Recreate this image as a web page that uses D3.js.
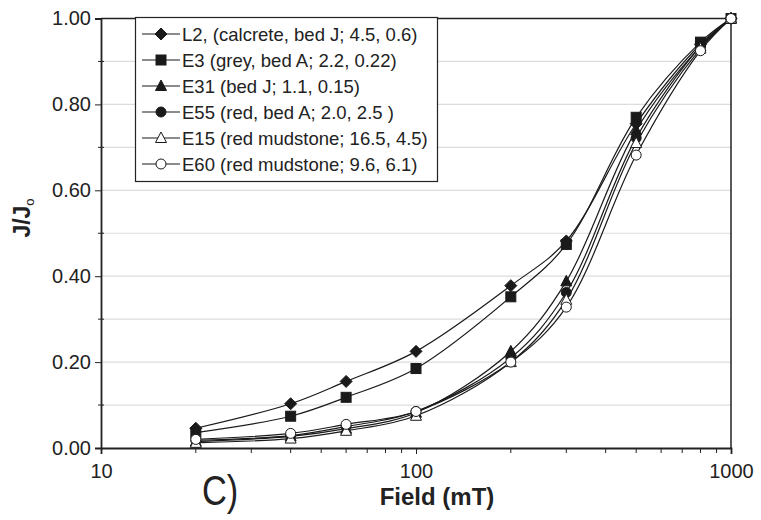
<!DOCTYPE html>
<html><head><meta charset="utf-8">
<script src="https://cdn.jsdelivr.net/npm/d3@7"></script>
<style>body{margin:0;background:#fff}svg{display:block}text{font-family:"Liberation Sans",Arial,sans-serif;fill:#222}</style>
</head><body>
<script>
const fields = [20, 40, 60, 100, 200, 300, 500, 800, 1000];
const seriesNames = ["L2, (calcrete, bed J; 4.5, 0.6)", "E3 (grey, bed A; 2.2, 0.22)", "E31 (bed J; 1.1, 0.15)", "E55 (red, bed A; 2.0, 2.5 )", "E15 (red mudstone; 16.5, 4.5)", "E60 (red mudstone; 9.6, 6.1)"];
const L2  = [0.046, 0.103, 0.155, 0.225, 0.378, 0.482, 0.755, 0.940, 1.0];
const E3  = [0.036, 0.074, 0.118, 0.185, 0.352, 0.474, 0.770, 0.945, 1.0];
const E31 = [0.015, 0.027, 0.045, 0.082, 0.225, 0.388, 0.740, 0.935, 1.0];
const E55 = [0.018, 0.029, 0.050, 0.085, 0.210, 0.362, 0.722, 0.935, 1.0];
const E15 = [0.012, 0.022, 0.040, 0.075, 0.200, 0.345, 0.710, 0.930, 1.0];
const E60 = [0.020, 0.034, 0.055, 0.085, 0.200, 0.328, 0.682, 0.925, 1.0];
const markers = ["diamond", "square", "triangle", "circle", "triangleOpen", "circleOpen"];
const xTickLabels = [10, 100, 1000];
const yTickLabels = [0, 0.2, 0.4, 0.6, 0.8, 1.0];

const seriesValues = [L2, E3, E31, E55, E15, E60];
const W = 761, H = 520;
const m = {l: 101, r: 731, t: 18.5, b: 448};
const svg = d3.select("body").append("svg").attr("width", W).attr("height", H);
const x = d3.scaleLog().domain([10, 1000]).range([m.l, m.r]);
const y = d3.scaleLinear().domain([0, 1]).range([m.b, m.t]);

// gridlines
svg.append("g").selectAll("line").data(d3.range(1, 10).map(i => i / 10)).join("line")
  .attr("x1", m.l).attr("x2", m.r).attr("y1", d => y(d)).attr("y2", d => y(d))
  .attr("stroke", "#dcdcdc").attr("stroke-width", 1.2);

// frame top/right
svg.append("line").attr("x1", m.l).attr("x2", m.r).attr("y1", m.t).attr("y2", m.t).attr("stroke", "#222").attr("stroke-width", 1.5);
svg.append("line").attr("x1", m.r).attr("x2", m.r).attr("y1", m.t).attr("y2", m.b).attr("stroke", "#222").attr("stroke-width", 1.5);

// x axis
const xMinor = [];
[10, 100].forEach(dec => { for (let k = 2; k <= 9; k++) xMinor.push(dec * k); });
const xAxis = svg.append("g").attr("transform", `translate(0,${m.b})`)
  .call(d3.axisBottom(x).tickValues(xTickLabels).tickFormat(d3.format("d")).tickSize(6).tickPadding(10));
xAxis.select(".domain").attr("stroke", "#222").attr("stroke-width", 1.8);
xAxis.selectAll("text").attr("font-size", 20).attr("fill", "#222");
xAxis.selectAll(".tick line").attr("stroke", "#222");
svg.append("g").selectAll("line").data(xMinor).join("line")
  .attr("x1", d => x(d)).attr("x2", d => x(d)).attr("y1", m.b).attr("y2", m.b + 5)
  .attr("stroke", "#222").attr("stroke-width", 1);

// y axis
const yAxis = svg.append("g").attr("transform", `translate(${m.l},0)`)
  .call(d3.axisLeft(y).tickValues(yTickLabels).tickFormat(d3.format(".2f")).tickSize(6).tickPadding(4));
yAxis.select(".domain").attr("stroke", "#222").attr("stroke-width", 1.8);
yAxis.selectAll("text").attr("font-size", 20).attr("fill", "#222");
yAxis.selectAll(".tick line").attr("stroke", "#222");
svg.append("g").selectAll("line").data([0.1, 0.3, 0.5, 0.7, 0.9]).join("line")
  .attr("x1", m.l - 3).attr("x2", m.l + 3).attr("y1", d => y(d)).attr("y2", d => y(d))
  .attr("stroke", "#222").attr("stroke-width", 1);

// lines
const line = d3.line().x(d => x(d[0])).y(d => y(d[1])).curve(d3.curveCatmullRom.alpha(0.5));
const gData = svg.append("g");
seriesValues.forEach((vals, i) => {
  const pts = fields.map((f, j) => [f, vals[j]]);
  gData.append("path").attr("d", line(pts)).attr("fill", "none").attr("stroke", "#1a1a1a").attr("stroke-width", 1.2);
});

function drawMarker(g, type, cx, cy) {
  const open = type.endsWith("Open");
  const fill = open ? "#fff" : "#1a1a1a";
  let el;
  if (type === "diamond") {
    el = g.append("path").attr("d", `M${cx},${cy-6}L${cx+6},${cy}L${cx},${cy+6}L${cx-6},${cy}Z`);
  } else if (type === "square") {
    el = g.append("rect").attr("x", cx - 5).attr("y", cy - 5).attr("width", 10).attr("height", 10);
  } else if (type.startsWith("triangle")) {
    el = g.append("path").attr("d", `M${cx},${cy-6}L${cx+5.5},${cy+4.5}L${cx-5.5},${cy+4.5}Z`);
  } else {
    el = g.append("circle").attr("cx", cx).attr("cy", cy).attr("r", 5);
  }
  el.attr("fill", fill).attr("stroke", "#1a1a1a").attr("stroke-width", 1);
}

seriesValues.forEach((vals, i) => {
  fields.forEach((f, j) => drawMarker(gData, markers[i], x(f), y(vals[j])));
});

// legend
const lg = svg.append("g");
lg.append("rect").attr("x", 135.5).attr("y", 17.5).attr("width", 302).attr("height", 164)
  .attr("fill", "#fff").attr("stroke", "#222").attr("stroke-width", 1.2);
seriesNames.forEach((name, i) => {
  const cy = 34 + i * 26;
  lg.append("line").attr("x1", 142).attr("x2", 180).attr("y1", cy).attr("y2", cy).attr("stroke", "#1a1a1a").attr("stroke-width", 1.2);
  drawMarker(lg, markers[i], 161, cy);
  lg.append("text").attr("x", 182).attr("y", cy + 6.5).attr("font-size", 18.5).text(name);
});

// axis titles
svg.append("text").attr("x", 437).attr("y", 505).attr("text-anchor", "middle")
  .attr("font-size", 24).attr("font-weight", "bold").text("Field (mT)");
const yt = svg.append("text").attr("transform", "translate(30,218) rotate(-90)").attr("text-anchor", "middle")
  .attr("font-size", 23).attr("font-weight", "bold");
yt.append("tspan").text("J/J");
yt.append("tspan").attr("font-size", 13).attr("font-weight", "normal").attr("dy", 4).text("o");

svg.append("text").attr("transform", "translate(202,505) scale(0.82,1)").attr("font-size", 42).text("C)");
</script>
</body></html>
